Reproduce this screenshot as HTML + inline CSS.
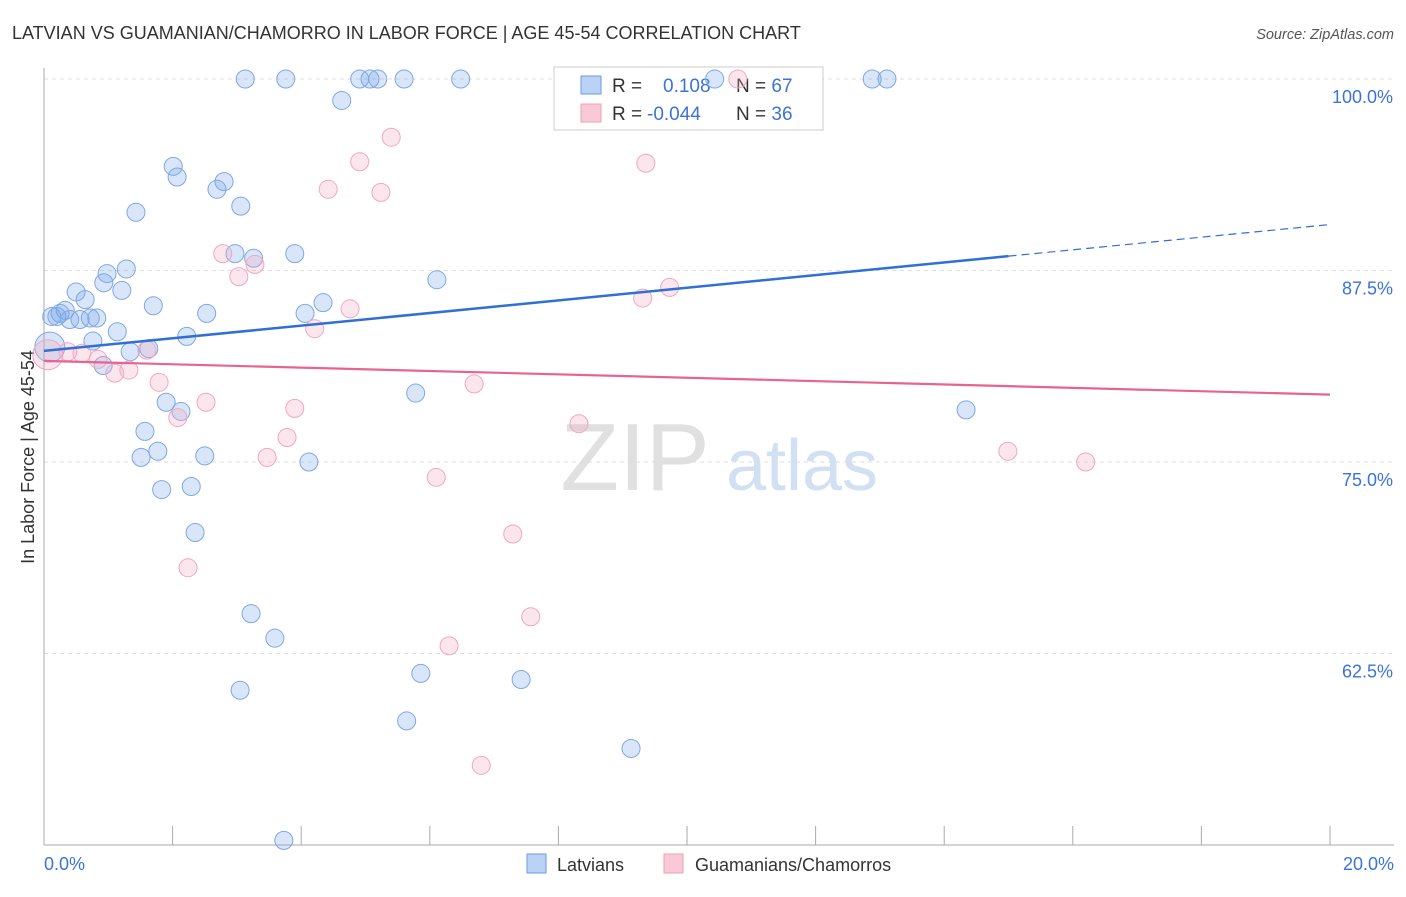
<!DOCTYPE html>
<html><head><meta charset="utf-8"><style>
body{margin:0;background:#fff;font-family:"Liberation Sans",sans-serif;}
svg text{font-family:"Liberation Sans",sans-serif;}
</style></head><body>
<svg width="1406" height="892">
<text x="12" y="39" font-size="18" fill="#333">LATVIAN VS GUAMANIAN/CHAMORRO IN LABOR FORCE | AGE 45-54 CORRELATION CHART</text>
<text x="1394" y="39" font-size="14.5" fill="#555" font-style="italic" text-anchor="end">Source: ZipAtlas.com</text>
<g><text x="635" y="490" font-size="96" fill="#e0e0e0" font-family="Liberation Serif" text-anchor="middle">ZIP</text><text x="802" y="490" font-size="72" fill="#d2e0f3" text-anchor="middle">atlas</text></g>
<g id="grid"></g>
<g id="axes"></g>
<text transform="translate(34,457) rotate(-90)" font-size="18" fill="#333" text-anchor="middle">In Labor Force | Age 45-54</text>
<text x="44" y="870" font-size="18" fill="#3b73d9">0.0%</text>
<text x="1394" y="870" font-size="18" fill="#3b73d9" text-anchor="end">20.0%</text>
<g>
<rect x="554" y="67" width="269" height="63" fill="#fff" stroke="#ccc"/>
<rect x="581" y="76" width="20" height="18" fill="#b9d2f5" stroke="#6a9be0"/>
<rect x="581" y="104" width="20" height="18" fill="#f9c9d7" stroke="#f0a0b8"/>
<text x="612" y="92" font-size="19" fill="#333">R = <tspan fill="#3b73d9" x="663">0.108</tspan><tspan fill="#333" x="736">N = </tspan><tspan fill="#3b73d9">67</tspan></text>
<text x="612" y="120" font-size="19" fill="#333">R = <tspan fill="#3b73d9" x="647">-0.044</tspan><tspan fill="#333" x="736">N = </tspan><tspan fill="#3b73d9">36</tspan></text>
</g>
<g id="marks"></g>
<g>
<rect x="527" y="854" width="19" height="19" fill="#b9d2f5" stroke="#6a9be0"/>
<text x="557" y="871" font-size="18" fill="#333">Latvians</text>
<rect x="664" y="854" width="19" height="19" fill="#f9c9d7" stroke="#f0a0b8"/>
<text x="695" y="871" font-size="18" fill="#333">Guamanians/Chamorros</text>
</g>
</svg>
<script>
const yTicks=[100,87.5,75,62.5];
const blueX=[3.13,3.76,4.91,5.07,5.19,5.60,6.48,10.43,12.88,13.11,4.63,2.01,2.07,2.69,2.80,3.06,1.43,2.97,3.26,3.90,1.28,0.98,0.93,1.21,0.50,0.64,1.70,0.33,0.25,0.12,0.20,0.40,0.56,0.72,0.82,2.53,4.06,4.34,6.11,1.14,2.22,0.76,0.09,1.34,1.63,0.92,1.90,2.13,1.57,1.77,1.51,2.50,4.12,1.83,2.29,5.78,2.35,3.22,3.59,3.05,5.86,7.42,5.64,9.13,3.73,14.34];
const blueY=[100,100,100,100,100,100,100,100,100,100,98.6,94.3,93.6,92.8,93.3,91.7,91.3,88.6,88.3,88.6,87.6,87.3,86.7,86.2,86.1,85.6,85.2,84.9,84.7,84.5,84.5,84.3,84.3,84.4,84.4,84.7,84.7,85.4,86.9,83.5,83.2,82.9,82.5,82.2,82.4,81.3,78.9,78.3,77.0,75.7,75.3,75.4,75.0,73.2,73.4,79.5,70.4,65.1,63.5,60.1,61.2,60.8,58.1,56.3,50.3,78.4];
const pinkX=[10.79,5.40,4.91,9.36,4.42,5.24,2.78,3.28,3.03,9.73,9.31,4.76,4.21,0.06,0.37,0.59,0.84,1.10,1.32,1.60,1.79,2.52,2.08,3.90,3.78,3.47,6.69,8.32,6.10,7.29,2.24,7.57,6.30,6.80,14.99,16.20];
const pinkY=[100,96.2,94.6,94.5,92.8,92.6,88.6,87.9,87.1,86.4,85.7,85.0,83.7,82.0,82.2,82.1,81.7,80.8,81.0,82.3,80.2,78.9,77.9,78.5,76.6,75.3,80.1,77.5,74.0,70.3,68.1,64.9,63.0,55.2,75.7,75.0];
const blueTrend=[82.25,90.5];
const pinkTrend=[81.6,79.4];
const blueSolidEnd=15.0;
const NS="http://www.w3.org/2000/svg";
const sx=v=>44+v/20*1286;
const sy=v=>79+(100-v)*15.32;
function mk(tag,attrs,parent){const e=document.createElementNS(NS,tag);for(const k in attrs)e.setAttribute(k,attrs[k]);document.getElementById(parent).appendChild(e);return e;}
yTicks.forEach(t=>{
 const l=mk('line',{x1:44,x2:1394,y1:sy(t),y2:sy(t),stroke:'#ddd','stroke-dasharray':'4,4'},'grid');
 
 
 const tx=mk('text',{x:1393,y:sy(t)+24,'font-size':18,fill:'#3b73d9','text-anchor':'end'},'grid');
 tx.textContent=t.toFixed(1)+'%';
 
 
});
const ax=mk('line',{x1:44,x2:44,y1:68,y2:845,stroke:'#aaa'},'axes');


const bx=mk('line',{x1:44,x2:1394,y1:845,y2:845,stroke:'#aaa'},'axes');


for(let i=0;i<=10;i++){const t=mk('line',{x1:sx(i*2),x2:sx(i*2),y1:826,y2:845,stroke:'#aaa'},'axes');
 
 }
function dots(X,Y,fill,stroke,name){X.forEach((x,i)=>{
 const big=x<0.11;
 const c=mk('circle',{cx:sx(x),cy:sy(Y[i]),r:big?15:9,fill:fill,stroke:stroke,'stroke-width':1},'marks');
 
 });}
dots(blueX,blueY,'rgba(120,165,235,0.28)','#7ea8e4','latvian-point');
dots(pinkX,pinkY,'rgba(245,165,195,0.28)','#f0a8be','guamanian-point');
const by=x=>blueTrend[0]+(blueTrend[1]-blueTrend[0])*x/20;
const b1=mk('line',{x1:sx(0),y1:sy(by(0)),x2:sx(blueSolidEnd),y2:sy(by(blueSolidEnd)),stroke:'#2f6fd6','stroke-width':2.5},'marks');


const b2=mk('line',{x1:sx(blueSolidEnd),y1:sy(by(blueSolidEnd)),x2:sx(20),y2:sy(by(20)),stroke:'#2f6fd6','stroke-width':1.2,'stroke-dasharray':'8,5'},'marks');


const p1=mk('line',{x1:sx(0),y1:sy(pinkTrend[0]),x2:sx(20),y2:sy(pinkTrend[1]),stroke:'#e8638f','stroke-width':2.2},'marks');


</script>
</body></html>
